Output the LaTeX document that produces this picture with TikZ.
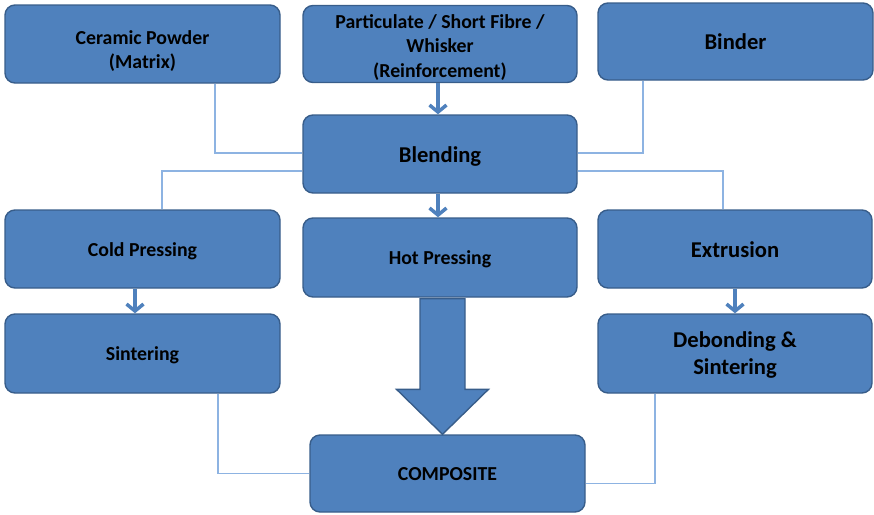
\documentclass[tikz,border=0pt]{standalone}
\usepackage{fontspec}
\setmainfont{Carlito}
\usetikzlibrary{calc,arrows.meta}
\definecolor{boxfill}{HTML}{4F81BD}
\definecolor{boxline}{HTML}{385D8A}
\definecolor{connline}{HTML}{8DB3E2}
\tikzset{
  smalltext/.style={font=\bfseries\fontsize{19.8}{24.5}\selectfont},
  bigtext/.style={font=\bfseries\fontsize{22.6}{27}\selectfont},
  box/.style={draw=boxline, fill=boxfill, line width=1.4pt, rounded corners=10pt,
    align=center, text=black, smalltext, inner sep=2pt},
  onesmall/.style={text height=18.5pt, text depth=3.7pt},
  onebig/.style={text height=20pt, text depth=3.2pt},
  conn/.style={draw=connline, line width=1.3pt},
  flowarrow/.style={draw=boxfill, line width=3.5pt, -{Straight Barb[length=7pt,width=17pt,line width=3.5pt]}},
  bigarrow/.style={draw=boxline, fill=boxfill, line width=1.4pt, line join=miter}
}
\begin{document}
\begin{tikzpicture}[x=1pt,y=-1pt]
\useasboundingbox (0,0) rectangle (874,514);
\node[box, minimum width=275, minimum height=78,
  label={[align=center, smalltext, text=black, yshift=-7pt]center:Ceramic Powder\\(Matrix)}] (cer) at (142.5,44) {};
\node[box, minimum width=274, minimum height=77,
  label={[align=center, smalltext, text=black, yshift=-3.5pt]center:Particulate / Short Fibre /\\Whisker\\(Reinforcement)}] (par) at (440,44) {};
\node[box, bigtext, onebig, minimum width=275, minimum height=77] (bin) at (735.5,41.5) {Binder};
\node[box, bigtext, onebig, minimum width=274, minimum height=78] (ble) at (440,154) {Blending};
\node[box, onesmall, minimum width=275, minimum height=78] (cold) at (142.5,249) {Cold Pressing};
\node[box, onesmall, minimum width=274, minimum height=79] (hot) at (440,257.5) {Hot Pressing};
\node[box, bigtext, onebig, minimum width=274, minimum height=78] (ext) at (735,249) {Extrusion};
\node[box, onesmall, minimum width=275, minimum height=79] (sin) at (142.5,353.5) {Sintering};
\node[box, bigtext, minimum width=274, minimum height=79,
  label={[align=center, bigtext, text=black, yshift=-1.5pt]center:Debonding \&\\Sintering}] (deb) at (735,353.5) {};
\node[box, onesmall, minimum width=275, minimum height=77] (comp) at (447.5,473.5) {COMPOSITE};

% thin connectors
\draw[conn] ([xshift=72.5pt]cer.south) |- ([yshift=1pt]ble.west);
\draw[conn] ([xshift=-92.5pt]bin.south) |- ([yshift=1pt]ble.east);
\draw[conn] ([yshift=-17pt]ble.west) -| ([xshift=19.5pt]cold.north);
\draw[conn] ([yshift=-17pt]ble.east) -| ([xshift=-12pt]ext.north);
\draw[conn] ([xshift=75.5pt]sin.south) |- (comp.west);
\draw[conn] ([xshift=-80pt]deb.south) |- ([yshift=-10pt]comp.east);

% arrows
\draw[flowarrow] ([xshift=-2pt]par.south) -- ([xshift=-2pt]ble.north);
\draw[flowarrow] ([xshift=-2pt]ble.south) -- ([xshift=-2pt]hot.north);
\draw[flowarrow] ([xshift=-7.5pt]cold.south) -- ([xshift=-7.5pt]sin.north);
\draw[flowarrow] (ext.south) -- (deb.north);

% big arrow
\coordinate (ax) at ($(hot.south)+(2.5,0)$);
\coordinate (tip) at (ax |- comp.north);
\draw[bigarrow] ($(ax)+(-22.5,1)$) -- ($(ax)+(22.5,1)$) -- ($(tip)+(22.5,-45)$) -- ($(tip)+(46,-45)$) -- (tip) -- ($(tip)+(-46,-45)$) -- ($(tip)+(-22.5,-45)$) -- cycle;
\end{tikzpicture}
\end{document}
